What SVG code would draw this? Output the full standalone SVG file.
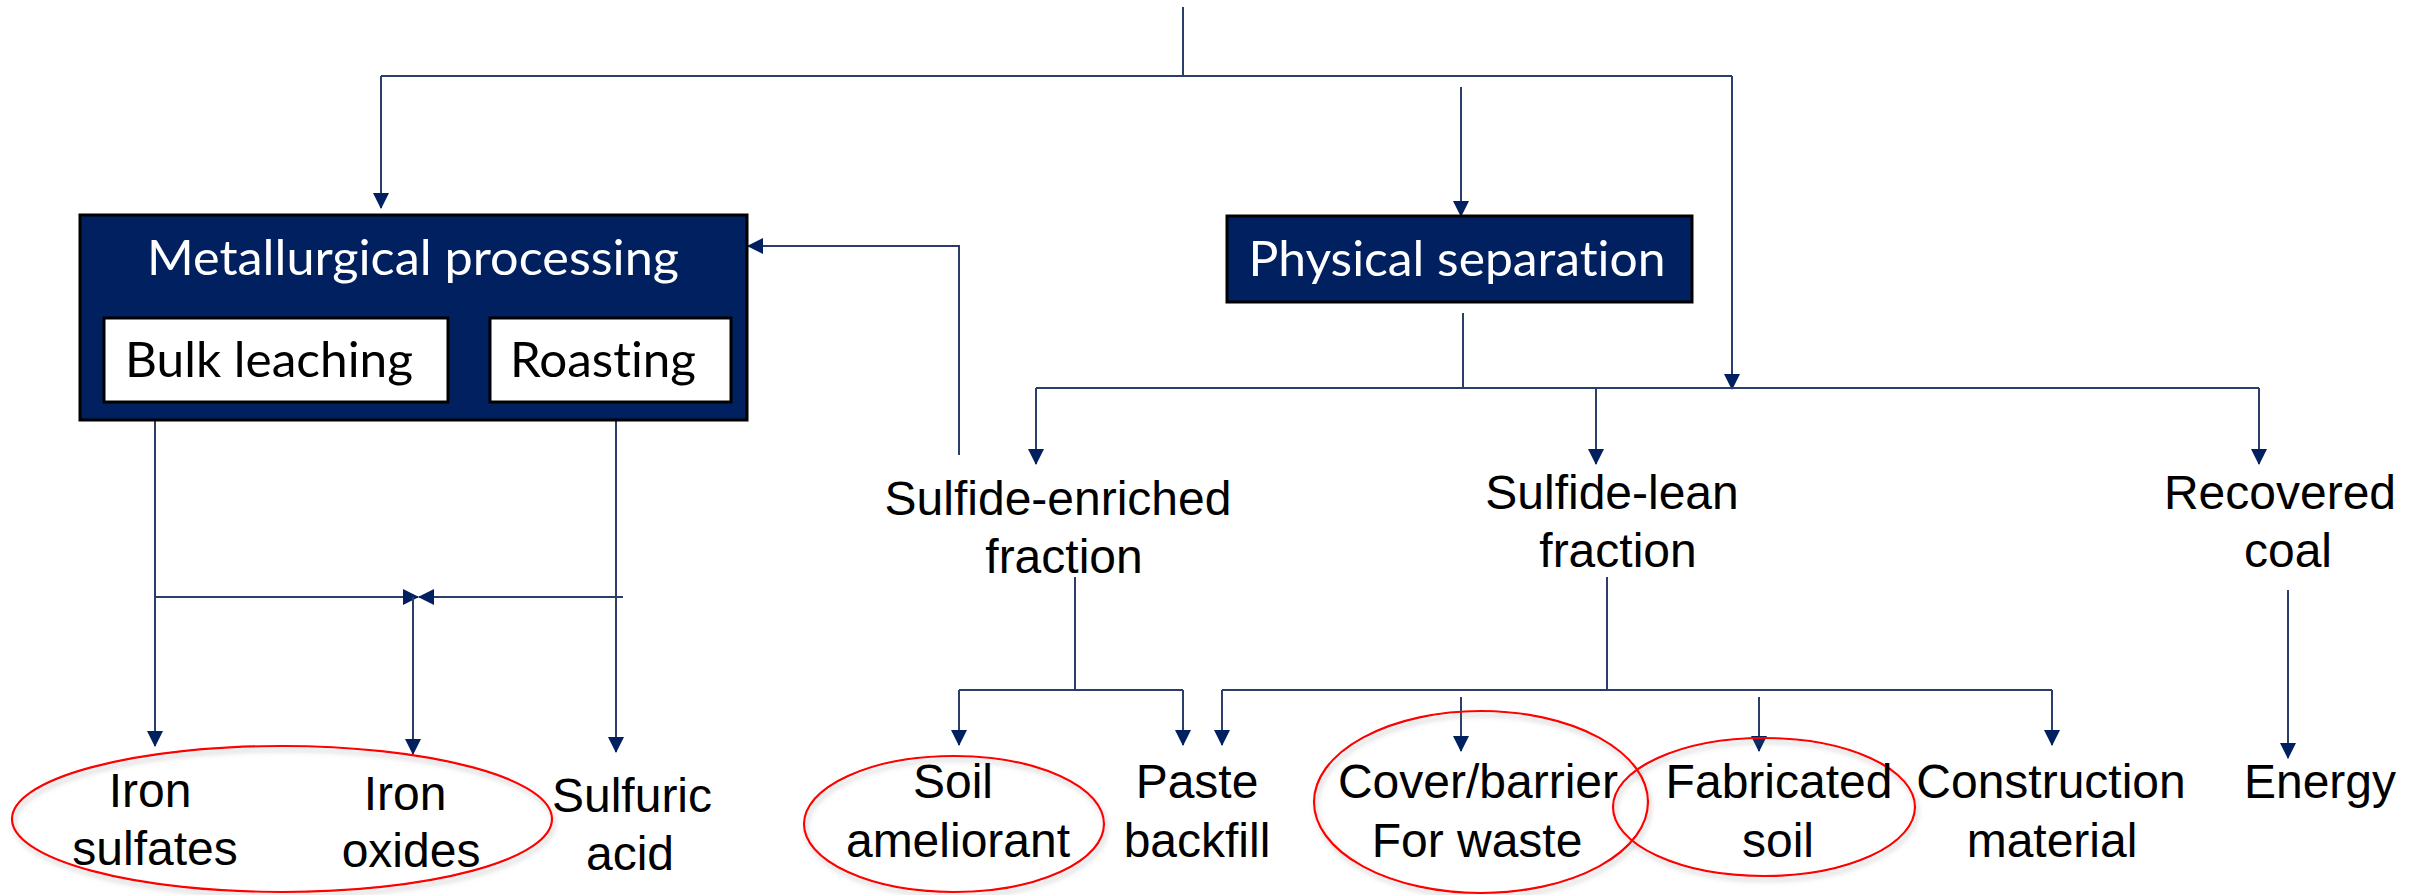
<svg xmlns="http://www.w3.org/2000/svg" width="2427" height="895" viewBox="0 0 2427 895">
<style>
.ln{fill:none;stroke:#2B3E6B;stroke-width:2}
.ar{fill:none;stroke:#2B3E6B;stroke-width:2;marker-end:url(#ah)}
.box{fill:#002060;stroke:#000;stroke-width:3}
.sub{fill:#fff;stroke:#000;stroke-width:3}
.bt{font-family:Lato,"Open Sans",sans-serif;font-size:48px;text-anchor:middle;font-variant-ligatures:none}
.lb{font-family:"Liberation Sans",Arial,sans-serif;font-size:48px;fill:#000;text-anchor:middle}
.ov{fill:none;stroke:#FF0000;stroke-width:2.2;filter:url(#sh)}
</style>
<defs>
<marker id="ah" viewBox="0 0 16 16" refX="15" refY="8" markerWidth="16" markerHeight="16" markerUnits="userSpaceOnUse" orient="auto">
<path d="M0,0 L16,8 L0,16 Z" fill="#002060"/>
</marker>
<filter id="sh" x="-10%" y="-10%" width="120%" height="130%">
<feDropShadow dx="2" dy="4" stdDeviation="2.5" flood-color="#808080" flood-opacity="0.45"/>
</filter>
</defs>

<g id="connectors">
<path class="ln" d="M1183,7 V76"/>
<path class="ln" d="M381,76 H1732"/>
<path class="ar" d="M381,76 V208"/>
<path class="ar" d="M1461,87 V216"/>
<path class="ar" d="M1732,76 V389"/>
<path class="ln" d="M1463,313 V388"/>
<path class="ln" d="M1036,388 H2259"/>
<path class="ar" d="M1036,388 V464"/>
<path class="ar" d="M1596,388 V464"/>
<path class="ar" d="M2259,388 V464"/>
<path class="ar" d="M959,455 V246 H748"/>
<path class="ar" d="M155,420 V746"/>
<path class="ar" d="M616,420 V752"/>
<path class="ar" d="M155,597 H418"/>
<path class="ar" d="M623,597 H419"/>
<path class="ar" d="M413,597 V754"/>
<path class="ln" d="M1075,577 V690"/>
<path class="ln" d="M959,690 H1183"/>
<path class="ar" d="M959,690 V745"/>
<path class="ar" d="M1183,690 V745"/>
<path class="ln" d="M1607,577 V690"/>
<path class="ln" d="M1222,690 H2052"/>
<path class="ar" d="M1222,690 V745"/>
<path class="ar" d="M2052,690 V745"/>
<path class="ar" d="M1461,697 V751"/>
<path class="ar" d="M1759,697 V751"/>
<path class="ar" d="M2288,590 V758"/>
</g>

<g id="metallurgical">
<rect class="box" x="80" y="215" width="667" height="205"/>
<text class="bt" x="413" y="275" fill="#fff" textLength="532" lengthAdjust="spacingAndGlyphs">Metallurgical processing</text>
</g>
<g id="bulk-leaching">
<rect class="sub" x="104" y="318" width="344" height="84"/>
<text class="bt" x="269" y="377" fill="#000" textLength="288" lengthAdjust="spacingAndGlyphs">Bulk leaching</text>
</g>
<g id="roasting">
<rect class="sub" x="490" y="318" width="241" height="84"/>
<text class="bt" x="603" y="377" fill="#000" textLength="186" lengthAdjust="spacingAndGlyphs">Roasting</text>
</g>
<g id="physical-separation">
<rect class="box" x="1227" y="216" width="465" height="86"/>
<text class="bt" x="1457" y="276" fill="#fff" textLength="417" lengthAdjust="spacingAndGlyphs">Physical separation</text>
</g>

<g id="sulfide-enriched">
<text class="lb" x="1058" y="515">Sulfide-enriched</text>
<text class="lb" x="1064" y="573">fraction</text>
</g>
<g id="sulfide-lean">
<text class="lb" x="1612" y="509">Sulfide-lean</text>
<text class="lb" x="1618" y="567">fraction</text>
</g>
<g id="recovered-coal">
<text class="lb" x="2280" y="509">Recovered</text>
<text class="lb" x="2288" y="567">coal</text>
</g>

<g id="iron-group">
<ellipse class="ov" cx="282" cy="819" rx="270" ry="73"/>
</g>
<g id="iron-sulfates">
<text class="lb" x="150" y="807">Iron</text>
<text class="lb" x="155" y="865">sulfates</text>
</g>
<g id="iron-oxides">
<text class="lb" x="405" y="810">Iron</text>
<text class="lb" x="411" y="867">oxides</text>
</g>
<g id="sulfuric-acid">
<text class="lb" x="632" y="812">Sulfuric</text>
<text class="lb" x="630" y="870">acid</text>
</g>
<g id="soil-ameliorant">
<ellipse class="ov" cx="954" cy="824" rx="150" ry="68"/>
<text class="lb" x="953" y="798">Soil</text>
<text class="lb" x="958" y="857">ameliorant</text>
</g>
<g id="paste-backfill">
<text class="lb" x="1197" y="798">Paste</text>
<text class="lb" x="1197" y="857">backfill</text>
</g>
<g id="cover-barrier">
<ellipse class="ov" cx="1481" cy="802" rx="167" ry="91"/>
<text class="lb" x="1478" y="798">Cover/barrier</text>
<text class="lb" x="1477" y="857">For waste</text>
</g>
<g id="fabricated-soil">
<ellipse class="ov" cx="1764" cy="807" rx="151" ry="69"/>
<text class="lb" x="1779" y="798">Fabricated</text>
<text class="lb" x="1778" y="857">soil</text>
</g>
<g id="construction-material">
<text class="lb" x="2051" y="798">Construction</text>
<text class="lb" x="2052" y="857">material</text>
</g>
<g id="energy">
<text class="lb" x="2320" y="798">Energy</text>
</g>
</svg>
